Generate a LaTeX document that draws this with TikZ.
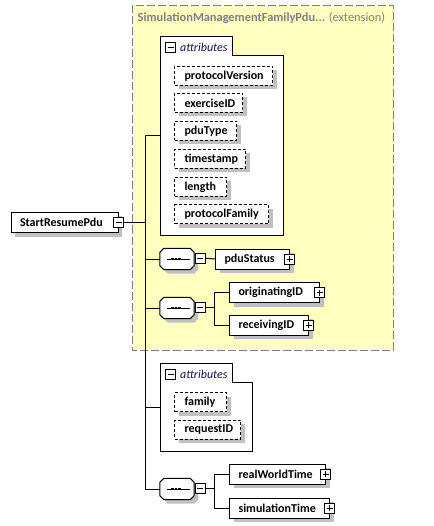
\documentclass[tikz,border=0pt]{standalone}
\usepackage{fontspec}
\setmainfont{Carlito}
\usetikzlibrary{shadows}
\definecolor{extfill}{RGB}{255,255,192}
\definecolor{extborder}{RGB}{128,128,128}
\definecolor{shadowgray}{RGB}{192,192,192}
\definecolor{titlegray}{RGB}{128,128,128}
\definecolor{attrnavy}{RGB}{20,20,80}
\tikzset{
  px/.style={line width=1pt},
  shad/.style={drop shadow={shadow xshift=4pt, shadow yshift=-4pt, fill=shadowgray, opacity=1}},
  elem/.style={px, draw=black, fill=white, shad, anchor=north west, minimum height=20pt,
    inner xsep=9pt, inner ysep=0pt, align=left, font=\fontsize{12}{14}\selectfont\bfseries},
  attr/.style={px, draw=black, fill=white, shad, dash pattern=on 3pt off 2pt, anchor=north west,
    minimum height=19pt, inner xsep=10pt, inner ysep=0pt, align=left, font=\fontsize{12}{14}\selectfont\bfseries},
  signbox/.style={px, draw=black, fill=white, minimum size=10pt, inner sep=0pt},
  minusbox/.style={signbox, path picture={
    \draw[px] ([xshift=2pt]path picture bounding box.west) -- ([xshift=-2pt]path picture bounding box.east);}},
  plusbox/.style={signbox, path picture={
    \draw[px] ([xshift=2pt]path picture bounding box.west) -- ([xshift=-2pt]path picture bounding box.east);
    \draw[px] ([yshift=-2pt]path picture bounding box.north) -- ([yshift=2pt]path picture bounding box.south);}},
  seqnode/.style={draw=none, minimum width=34pt, minimum height=21pt, inner sep=0pt},
  octline/.style={px, draw=black, fill=white},
  conn/.style={px, draw=black},
  hdr/.style={anchor=west, inner sep=0pt, text=attrnavy, font=\fontsize{12}{14}\selectfont\itshape},
}
\newcommand\seqoct[1]{%
  \fill[shadowgray] ([shift={(8pt,-4pt)}]#1.north west) -- ([shift={(0pt,-4pt)}]#1.north east)
    -- ([shift={(4pt,-8pt)}]#1.north east) -- ([shift={(4pt,0pt)}]#1.south east)
    -- ([shift={(0pt,-4pt)}]#1.south east) -- ([shift={(8pt,-4pt)}]#1.south west)
    -- ([shift={(4pt,0pt)}]#1.south west) -- ([shift={(4pt,-8pt)}]#1.north west) -- cycle;
  \draw[octline] ([xshift=4pt]#1.north west) -- ([xshift=-4pt]#1.north east)
    -- ([yshift=-4pt]#1.north east) -- ([yshift=4pt]#1.south east)
    -- ([xshift=-4pt]#1.south east) -- ([xshift=4pt]#1.south west)
    -- ([yshift=4pt]#1.south west) -- ([yshift=-4pt]#1.north west) -- cycle;
  \draw[px] ([xshift=-10.5pt]#1.center) -- ([xshift=12.5pt]#1.center);
  \foreach \dx in {-4.8,-1,2.8}{\fill ([xshift=\dx pt-1.4pt, yshift=-1.4pt]#1.center) rectangle ++(2.8pt,2.8pt);}%
}
\begin{document}
\begin{tikzpicture}[x=1pt,y=-1pt]
\useasboundingbox (0,0) rectangle (433,526);

% extension box
\draw[px, draw=extborder, fill=extfill, dash pattern=on 8pt off 3pt] (132.5,5.5) rectangle (393,350);
\node[anchor=west, inner sep=0pt, text=titlegray, font=\fontsize{12.4}{14}\selectfont] (title) at (137.5,18)
  {\textbf{SimulationManagementFamilyPdu...} (extension)};

% attributes group 1
\draw[px, fill=white] (160.5,36.5) -- (232,36.5) -- (232,55.5) -- (283,55.5) -- (283,235) -- (160.5,235) -- cycle;
\node[minusbox] (a1m) at (170.5,47.5) {};
\node[hdr] (a1h) at (180,47.5) {attributes};
\coordinate (a1w) at (160.5,136);

\node[attr, minimum width=98pt, text width=78pt] (pv) at (174,66) {\mbox{protocolVersion}};
\node[attr, minimum width=68pt, text width=48pt] (ex) at (174,93) {\mbox{exerciseID}};
\node[attr, minimum width=62pt, text width=42pt] (pt) at (174,121) {\mbox{pduType}};
\node[attr, minimum width=71pt, text width=51pt] (ts) at (174,149) {\mbox{timestamp}};
\node[attr, minimum width=52pt, text width=32pt] (len) at (174,177) {\mbox{length}};
\node[attr, minimum width=94pt, text width=74pt] (pf) at (174,204.5) {\mbox{protocolFamily}};

% root element
\node[elem, minimum width=107pt, text width=89pt] (start) at (10.5,212) {\mbox{StartResumePdu}};
\node[minusbox] (smin) at (start.east) {};

% trunk
\coordinate (tk) at (145.7,0);
\coordinate (br) at (214,0);

% sequence 1
\node[seqnode] (seq1) at (177,259) {};
\seqoct{seq1}
\node[minusbox, anchor=west] (m1) at ([xshift=0.3pt,yshift=0.8pt]seq1.east) {};
\node[elem, minimum width=74pt, text width=56pt] (ps) at (215,248.5) {\mbox{pduStatus}};
\node[plusbox] (psp) at ([xshift=-0.5pt]ps.east) {};

% sequence 2
\node[seqnode] (seq2) at (177,308) {};
\seqoct{seq2}
\node[minusbox, anchor=west] (m2) at ([xshift=0.3pt,yshift=0.8pt]seq2.east) {};
\node[elem, minimum width=90pt, text width=72pt] (orig) at (229,282) {\mbox{originatingID}};
\node[plusbox] (origp) at ([xshift=-0.5pt]orig.east) {};
\node[elem, minimum width=79pt, text width=61pt] (recv) at (229,314.5) {\mbox{receivingID}};
\node[plusbox] (recvp) at ([xshift=-0.5pt]recv.east) {};

% attributes group 2
\draw[px, fill=white] (160.5,363.5) -- (232,363.5) -- (232,382.5) -- (252,382.5) -- (252,451) -- (160.5,451) -- cycle;
\node[minusbox] (a2m) at (170.5,374.5) {};
\node[hdr] (a2h) at (180,374.5) {attributes};
\coordinate (a2w) at (160.5,407);
\node[attr, minimum width=52pt, text width=32pt] (fam) at (174,392) {\mbox{family}};
\node[attr, minimum width=66pt, text width=46pt] (req) at (174,419.5) {\mbox{requestID}};

% sequence 3
\node[seqnode] (seq3) at (177,489) {};
\seqoct{seq3}
\node[minusbox, anchor=west] (m3) at ([xshift=0.3pt,yshift=0.8pt]seq3.east) {};
\node[elem, minimum width=96pt, text width=78pt] (rwt) at (229,463.5) {\mbox{realWorldTime}};
\node[plusbox] (rwtp) at ([xshift=-0.5pt]rwt.east) {};
\node[elem, minimum width=100pt, text width=82pt] (simt) at (229,497.5) {\mbox{simulationTime}};
\node[plusbox] (simtp) at ([xshift=-0.5pt]simt.east) {};

% connectors
\draw[conn] (a1w) -- (a1w -| tk) -- (seq3.west -| tk) -- (seq3.west);
\draw[conn] (smin.east) -- (smin.east -| tk);
\draw[conn] (seq1.west -| tk) -- (seq1.west);
\draw[conn] (seq2.west -| tk) -- (seq2.west);
\draw[conn] (a2w -| tk) -- (a2w);
\draw[conn] (m1.east) -- (ps.west);
\draw[conn] (m2.east) -- (m2.east -| br);
\draw[conn] (orig.west) -- (orig.west -| br) -- (recv.west -| br) -- (recv.west);
\draw[conn] (m3.east) -- (m3.east -| br);
\draw[conn] (rwt.west) -- (rwt.west -| br) -- (simt.west -| br) -- (simt.west);
\end{tikzpicture}
\end{document}
